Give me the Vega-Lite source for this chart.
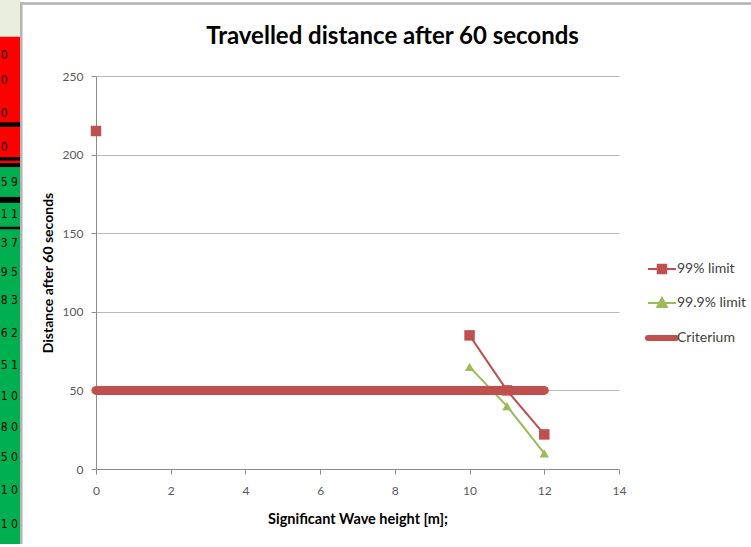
{
  "$schema": "https://vega.github.io/schema/vega-lite/v6.json",
  "width": 523,
  "height": 393,
  "autosize": {"type": "none"},
  "padding": {"left": 96, "top": 76, "right": 132, "bottom": 78},
  "background": "white",
  "title": {
    "text": "Travelled distance after 60 seconds",
    "font": "Lato",
    "fontSize": 24,
    "fontWeight": "bold",
    "color": "#000000",
    "anchor": "middle",
    "dx": 35,
    "offset": 0,
    "dy": 49
  },
  "config": {
    "view": {"stroke": null},
    "axis": {
      "labelFont": "Lato",
      "labelFontSize": 12,
      "labelColor": "#595959",
      "titleFont": "Lato",
      "titleFontWeight": "bold",
      "titleColor": "#000000",
      "domainColor": "#8c8c8c",
      "tickColor": "#8c8c8c",
      "tickSize": 5,
      "gridColor": "#b8b8b8"
    }
  },
  "datasets": {
    "series": [
      {"series": "99% limit", "seg": "a", "wave": 0, "dist": 215},
      {"series": "99% limit", "seg": "b", "wave": 10, "dist": 85},
      {"series": "99% limit", "seg": "b", "wave": 11, "dist": 50},
      {"series": "99% limit", "seg": "b", "wave": 12, "dist": 22},
      {"series": "99.9% limit", "seg": "c", "wave": 10, "dist": 65},
      {"series": "99.9% limit", "seg": "c", "wave": 11, "dist": 40},
      {"series": "99.9% limit", "seg": "c", "wave": 12, "dist": 10},
      {"series": "Criterium", "seg": "d", "wave": 0, "dist": 50},
      {"series": "Criterium", "seg": "d", "wave": 12, "dist": 50}
    ],
    "cells": [
      {"kind": "header", "top": 0, "bottom": 37, "c0": 0, "c1": 20},
      {"kind": "fail", "top": 37, "bottom": 166, "c0": 0, "c1": 20},
      {"kind": "pass", "top": 166, "bottom": 547, "c0": 0, "c1": 20},
      {"kind": "line", "top": 123, "bottom": 127.5, "c0": 0, "c1": 20},
      {"kind": "line", "top": 158, "bottom": 161.5, "c0": 0, "c1": 20},
      {"kind": "line", "top": 164, "bottom": 168, "c0": 0, "c1": 20},
      {"kind": "line", "top": 198, "bottom": 204, "c0": 0, "c1": 20},
      {"kind": "line", "top": 228, "bottom": 230.5, "c0": 0, "c1": 20}
    ],
    "texts": [
      {"row": 55, "a": "0", "b": ""},
      {"row": 80, "a": "0", "b": ""},
      {"row": 114, "a": "0", "b": ""},
      {"row": 148, "a": "0", "b": ""},
      {"row": 183, "a": "5", "b": "9"},
      {"row": 215, "a": "1", "b": "10"},
      {"row": 244, "a": "3", "b": "7.4"},
      {"row": 273, "a": "9", "b": "5.4"},
      {"row": 302, "a": "8", "b": "3.5"},
      {"row": 335, "a": "6", "b": "2.0"},
      {"row": 367, "a": "5", "b": "1.1"},
      {"row": 398, "a": "1", "b": "0.6"},
      {"row": 429, "a": "8", "b": "0.4"},
      {"row": 460, "a": "5", "b": "0.3"},
      {"row": 493, "a": "1", "b": "0.2"},
      {"row": 527, "a": "1", "b": "0.2"}
    ],
    "borders": [
      {"h0": 21.3, "h1": 21.3, "v0": 2, "v1": 547},
      {"h0": 20, "h1": 760, "v0": 3.5, "v1": 3.5}
    ]
  },
  "resolve": {"scale": {"x": "independent", "y": "independent"}},
  "layer": [
    {
      "data": {"name": "series"},
      "encoding": {
        "x": {
          "field": "wave",
          "type": "quantitative",
          "scale": {"domain": [0, 14], "nice": false},
          "axis": {
            "orient": "bottom",
            "values": [0, 2, 4, 6, 8, 10, 12, 14],
            "grid": false,
            "labelFlush": false,
            "labelPadding": 11,
            "title": "Significant Wave height [m];",
            "titleFontSize": 14.5,
            "titlePadding": 16
          }
        },
        "y": {
          "field": "dist",
          "type": "quantitative",
          "scale": {"domain": [0, 250], "nice": false},
          "axis": {
            "orient": "left",
            "values": [0, 50, 100, 150, 200, 250],
            "grid": true,
            "labelPadding": 8,
            "title": "Distance after 60 seconds",
            "titleFontSize": 14,
            "titlePadding": 7
          }
        },
        "color": {
          "field": "series",
          "type": "nominal",
          "scale": {
            "domain": ["99% limit", "99.9% limit", "Criterium"],
            "range": ["#C0504D", "#9BBB59", "#C0504D"]
          },
          "legend": {
            "orient": "none",
            "legendX": 559,
            "legendY": 186,
            "title": null,
            "symbolSize": 784,
            "labelFont": "Lato",
            "labelFontSize": 14,
            "labelColor": "#404040",
            "labelOffset": 8,
            "labelLimit": 200,
            "rowPadding": 15,
            "encode": {
              "symbols": {
                "update": {
                  "shape": {"signal": "datum.value === 'Criterium' ? 'M-1,0H1' : datum.value === '99% limit' ? 'M-1,0H1M-0.3,-0.3H0.3V0.3H-0.3Z' : 'M-1,0H1M0,-0.36L0.34,0.28H-0.34Z'"},
                  "fill": {"signal": "scale('color', datum.value)"},
                  "stroke": {"signal": "scale('color', datum.value)"},
                  "strokeWidth": {"signal": "datum.value === 'Criterium' ? 6 : 2"},
                  "strokeCap": {"signal": "datum.value === 'Criterium' ? 'round' : 'butt'"},
                  "opacity": {"value": 1},
                  "fillOpacity": {"value": 1}
                }
              }
            }
          }
        }
      },
      "layer": [
        {
          "transform": [{"filter": "datum.series !== 'Criterium'"}],
          "mark": {"type": "line", "strokeWidth": 2},
          "encoding": {"detail": {"field": "seg"}}
        },
        {
          "transform": [{"filter": "datum.series === '99% limit'"}],
          "mark": {"type": "point", "shape": "square", "filled": true, "size": 110, "opacity": 1}
        },
        {
          "transform": [{"filter": "datum.series === '99.9% limit'"}],
          "mark": {"type": "point", "shape": "triangle-up", "filled": true, "size": 90, "opacity": 1}
        },
        {
          "transform": [{"filter": "datum.series === 'Criterium'"}],
          "mark": {"type": "line", "strokeWidth": 9, "strokeCap": "round"}
        }
      ]
    },
    {
      "layer": [
        {
          "data": {"name": "cells"},
          "mark": {"type": "rect"},
          "encoding": {
            "x": {"field": "c0", "type": "quantitative", "scale": {"domain": [0, 20], "range": [-96, -76]}, "axis": null},
            "x2": {"field": "c1"},
            "y": {"field": "top", "type": "quantitative", "scale": {"domain": [0, 547], "range": [-76, 471]}, "axis": null},
            "y2": {"field": "bottom"},
            "fill": {
              "field": "kind",
              "type": "nominal",
              "scale": {"domain": ["header", "fail", "pass", "line"], "range": ["#EAEFDD", "#FF0000", "#00B050", "#000000"]},
              "legend": null
            }
          }
        },
        {
          "data": {"name": "texts"},
          "mark": {"type": "text", "align": "right", "baseline": "middle", "font": "DejaVu Sans Condensed, DejaVu Sans, sans-serif", "fontSize": 12, "color": "#000000"},
          "encoding": {
            "x": {"datum": 7.5, "type": "quantitative"},
            "y": {"field": "row", "type": "quantitative"},
            "text": {"field": "a"}
          }
        },
        {
          "data": {"name": "texts"},
          "mark": {"type": "text", "align": "left", "baseline": "middle", "font": "DejaVu Sans Condensed, DejaVu Sans, sans-serif", "fontSize": 12, "color": "#000000", "limit": 10, "ellipsis": "\u200b"},
          "encoding": {
            "x": {"datum": 11, "type": "quantitative"},
            "y": {"field": "row", "type": "quantitative"},
            "text": {"field": "b"}
          }
        },
        {
          "data": {"name": "borders"},
          "mark": {"type": "rule", "color": "#b3b3b3", "strokeWidth": 2.5},
          "encoding": {
            "x": {"field": "h0", "type": "quantitative"},
            "x2": {"field": "h1"},
            "y": {"field": "v0", "type": "quantitative"},
            "y2": {"field": "v1"}
          }
        }
      ]
    }
  ]
}
